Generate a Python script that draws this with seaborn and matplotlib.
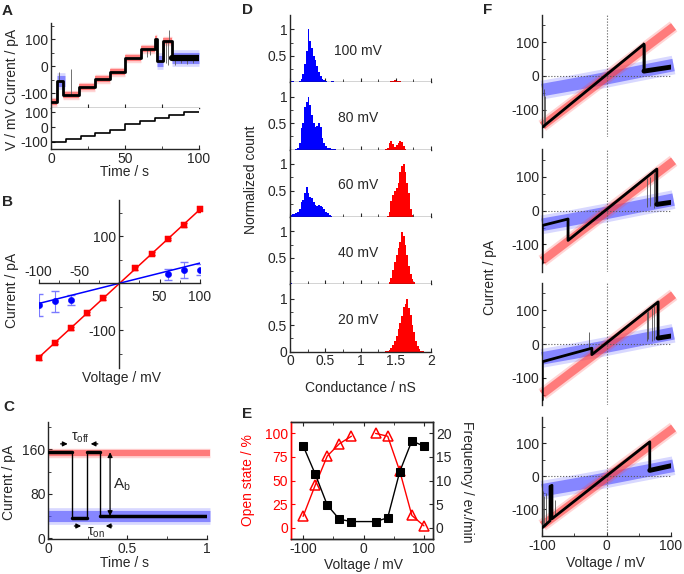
import numpy as np
import pandas as pd
import matplotlib
matplotlib.use("Agg")
import matplotlib.pyplot as plt
from matplotlib.ticker import MultipleLocator, FixedLocator
import seaborn as sns

# ---------------- A: current trace during the voltage staircase
a_trace_t = [0, 4.3, 4.3, 8.3, 8.3, 19, 19, 29.5, 29.5, 39.6, 39.6, 50.3, 50.3,
             60.6, 60.6, 70.5, 70.5, 71.9, 71.9, 75.7, 75.7, 81.5, 81.5, 100]
a_trace_i = [-133, -133, -54, -54, -105, -105, -77, -77, -48, -48, -20, -20, 32,
             32, 63, 63, 100, 100, 18, 18, 95, 95, 30, 30]
a_open_t0 = [0, 8.3, 19, 29.5, 39.6, 50.3, 60.6, 70.5, 75.7]
a_open_t1 = [4.3, 19, 29.5, 39.6, 50.3, 60.6, 70.5, 71.9, 81.5]
a_open_i = [-133, -105, -77, -48, -20, 32, 63, 100, 95]
a_closed_t0 = [3.8, 71.9, 81.5]
a_closed_t1 = [9.3, 75.7, 100]
a_closed_i = [-54, 18, 30]
a_spike_t = [5.5, 13.5, 65, 67, 76.5, 77.5, 79, 80, 84, 88, 92, 96]
a_spike_lo = [-54, -105, 35, 40, 20, 10, 5, 95, 5, 10, 8, 12]
a_spike_hi = [-23, -10, 63, 63, 95, 95, 95, 135, 30, 30, 30, 30]
a_step_t = [0, 10, 20, 30, 40, 50, 60, 70, 80, 90, 100]
a_step_v = [-100, -80, -60, -40, -20, 20, 40, 60, 80, 100, 100]

# ---------------- B: I-V of open and closed state
b_volt = [-100, -80, -60, -40, -20, 20, 40, 60, 80, 100]
b_open = [-158, -126, -96, -64, -32, 32, 63, 94, 124, 157]
b_open_err = [5, 4, 3, 3, 3, 3, 3, 3, 4, 5]
b_closed_volt = [-100, -80, -60, 60, 80, 100]
b_closed = [-46, -38, -36, 19, 28, 29]
b_closed_err = [23, 22, 11, 12, 17, 11]
b_fit_volt = [-100, 100]
b_open_fit = [-158, 157]
b_closed_fit = [-43, 43]

# ---------------- C: single gating events
c_trace_t = [0, 0.147, 0.147, 0.242, 0.242, 0.326, 0.326, 1.0]
c_trace_i = [155, 155, 37, 37, 155, 155, 40, 40]
c_open_level = 153
c_closed_level = 40

# ---------------- D: conductance histograms (bin width 0.025 nS)
d_width = 0.025
d_labels = ["100 mV", "80 mV", "60 mV", "40 mV", "20 mV"]
d_blue_start = [0.0, 0.0, 0.0, 0.0, 0.0]
d_blue = [
    [0.02, 0.03, 0.01, 0.0, 0.0, 0.02, 0.06, 0.15, 0.35, 0.6, 1.0, 0.78, 0.65,
     0.5, 0.42, 0.3, 0.2, 0.12, 0.07, 0.04, 0.02, 0.01, 0.0, 0.02, 0.03, 0.01],
    [0, 0, 0, 0.01, 0.03, 0.12, 0.4, 0.5, 0.8, 0.9, 1.0, 0.85, 0.65, 0.5, 0.42,
     0.45, 0.5, 0.42, 0.22, 0.12, 0.06, 0.04, 0.03, 0.02, 0.02, 0.01],
    [0.03, 0.05, 0.06, 0.08, 0.1, 0.15, 0.28, 0.32, 0.45, 0.56, 0.45, 0.38, 0.35,
     0.28, 0.22, 0.2, 0.22, 0.2, 0.18, 0.15, 0.1, 0.07, 0.04, 0.02],
    [0.02, 0.01],
    [],
]
d_red_start = [1.4, 1.35, 1.375, 1.4, 1.35]
d_red = [
    [0.01, 0.02, 0.03, 0.04, 0.03, 0.02, 0.03, 0.01],
    [0.01, 0.04, 0.12, 0.16, 0.1, 0.05, 0.08, 0.13, 0.16, 0.14, 0.06, 0.02],
    [0.02, 0.1, 0.3, 0.42, 0.5, 0.55, 0.65, 0.85, 0.97, 1.0, 0.85, 0.65, 0.45,
     0.15, 0.03],
    [0.04, 0.12, 0.28, 0.42, 0.55, 0.68, 0.8, 0.98, 0.92, 0.75, 0.55, 0.35, 0.2,
     0.1, 0.04, 0.01],
    [0.01, 0.02, 0.04, 0.07, 0.12, 0.2, 0.3, 0.42, 0.55, 0.68, 0.85, 0.9, 1.0,
     0.82, 0.7, 0.5, 0.38, 0.2, 0.1, 0.05, 0.02, 0.01],
]

# ---------------- E: open probability and gating frequency
e_volt = [-100, -80, -60, -40, -20, 20, 40, 60, 80, 100]
e_open = [12, 45, 76, 89, 97, 100, 97, 60, 13, 2]
e_freq = [17.4, 11.4, 4.8, 1.8, 1.3, 1.3, 2.1, 11.9, 18.4, 17.3]

# ---------------- F: voltage ramps
f_red_band_v = [-100, 104]
f_red_band_i = [-148, 146]
f_blue_band_v = [-100, -50, 0, 50, 104]
f_blue_band_i = [-42, -25, -7, 12, 32]
f_trace_v = [
    [-100, 58, 58, 100],
    [-100, -100, -60, -60, 78, 78, 100],
    [-100, -100, -23, -23, 80, 80, 100],
    [-100, -88, -88, -85, -85, 67, 67, 100],
]
f_trace_i = [
    [-152, 94, 14, 26],
    [-155, -44, -25, -88, 122, 18, 24],
    [-165, -52, -12, -31, 125, 18, 24],
    [-155, -134, -30, -27, -128, 104, 18, 32],
]
f_spike_v = [[-98, -96.5, 57, 60], [63, 67, 73, 76], [-28, 62, 64, 70, 74],
             [-99, -97, -95, -80]]
f_spike_lo = [[-150, -148, 14, 14], [10, 12, 8, 15], [-14, 10, 15, 10, 12],
              [-152, -150, -148, -120]]
f_spike_hi = [[-40, -60, 100, 95], [95, 100, 110, 114], [37, 95, 98, 107, 113],
              [-45, -60, -50, -70]]

RED = "#ff0000"
BLUE = "#0000ff"
RED_BAND = "#ff4040"
BLUE_BAND = "#5050ff"

sns.set_style("ticks")
plt.rcParams["font.family"] = ["Liberation Sans", "DejaVu Sans"]
plt.rcParams.update({
    "font.size": 10, "xtick.labelsize": 10, "ytick.labelsize": 10,
    "xtick.direction": "in", "ytick.direction": "in",
    "xtick.major.size": 3, "ytick.major.size": 3,
    "xtick.minor.size": 2, "ytick.minor.size": 2,
    "xtick.major.pad": 2, "ytick.major.pad": 2,
    "axes.linewidth": 1.0, "axes.unicode_minus": False,
    "mathtext.default": "regular",
})

W, H = 684, 574
fig = plt.figure(figsize=(W / 100, H / 100), dpi=100)


def add_ax(l, t, r, b):
    return fig.add_axes([l / W, 1 - b / H, (r - l) / W, (b - t) / H])


def ftext(x, y, s, **kw):
    fig.text(x / W, 1 - y / H, s, ha="center", va="center", **kw)


def band(ax, x, y, width, color):
    ax.plot(x, y, color=color, lw=width * 1.5, alpha=0.22, solid_capstyle="butt",
            solid_joinstyle="round", clip_on=False, zorder=1)
    ax.plot(x, y, color=color, lw=width, alpha=0.6, solid_capstyle="butt",
            solid_joinstyle="round", clip_on=False, zorder=1)


# ======================= A
axA = add_ax(51, 23, 199, 108)
axAv = add_ax(51, 108, 199, 149)
for t0, t1, lev in zip(a_open_t0, a_open_t1, a_open_i):
    band(axA, [t0, t1], [lev, lev], 4.5, RED_BAND)
for t0, t1, lev in zip(a_closed_t0, a_closed_t1, a_closed_i):
    band(axA, [t0, t1], [lev, lev], 8, BLUE_BAND)
axA.vlines(a_spike_t, a_spike_lo, a_spike_hi, color="0.35", lw=0.6, zorder=2)
axA.plot(a_trace_t, a_trace_i, color="k", lw=2.0, zorder=3)
axA.plot(a_trace_t[-2:], a_trace_i[-2:], color="k", lw=4.5, zorder=3)
axA.set_xlim(0, 100)
axA.set_ylim(-155, 160)
axA.set_yticks([-100, 0, 100])
axA.yaxis.set_minor_locator(FixedLocator([-50, 50, 150]))
axA.set_xticks([25, 50, 75])
axA.set_xticklabels([])
axA.spines[["top", "right"]].set_visible(False)

axAv.plot(a_step_t, a_step_v, drawstyle="steps-post", color="k", lw=1.2)
axAv.set_xlim(0, 100)
axAv.set_ylim(-147, 127)
axAv.set_yticks([-100, 0, 100])
axAv.set_xticks([0, 50, 100])
axAv.xaxis.set_minor_locator(FixedLocator([25, 75]))
axAv.spines[["top", "right"]].set_visible(False)
ftext(12, 66, "Current / pA", rotation=90)
ftext(12, 129, "V / mV", rotation=90)
ftext(125, 172, "Time / s")

# ======================= B
axB = add_ax(38.6, 200, 200, 368)
axB.errorbar(b_volt, b_open, yerr=b_open_err, fmt="none", ecolor=RED,
             elinewidth=0.8, capsize=2.5, zorder=2)
axB.errorbar(b_closed_volt, b_closed, yerr=b_closed_err, fmt="none",
             ecolor="#7a7aff", elinewidth=0.8, capsize=3, zorder=2)
sns.lineplot(x=b_fit_volt, y=b_open_fit, color=RED, lw=1.1, ax=axB)
sns.lineplot(x=b_fit_volt, y=b_closed_fit, color=BLUE, lw=1.1, ax=axB)
sns.scatterplot(x=b_volt, y=b_open, marker="s", color=RED, edgecolor=RED, s=20,
                ax=axB, zorder=4, clip_on=False)
sns.scatterplot(x=b_closed_volt, y=b_closed, marker="o", color=BLUE,
                edgecolor=BLUE, s=20, ax=axB, zorder=4)
axB.set_xlim(-100, 100)
axB.set_ylim(-180, 177)
axB.spines["left"].set_position(("data", 0))
axB.spines["bottom"].set_position(("data", 0))
axB.spines[["top", "right"]].set_visible(False)
axB.set_xticks([-100, -50, 50, 100])
axB.set_xticklabels(["", "", "50", "100"])
axB.xaxis.set_minor_locator(FixedLocator([-75, -25, 25, 75]))
axB.tick_params(axis="x", pad=5)
for v in [-100, -50]:
    axB.text(v, 25, str(v), ha="center", va="center", fontsize=10)
axB.set_yticks([-100, 100])
axB.yaxis.set_minor_locator(FixedLocator([-150, -50, 50, 150]))
ftext(12, 290, "Current / pA", rotation=90)
ftext(121, 378, "Voltage / mV")

# ======================= C
axC = add_ax(48.3, 421.7, 206.7, 539.3)
band(axC, [0, 1.02], [c_open_level, c_open_level], 4.5, RED_BAND)
band(axC, [0, 1.02], [c_closed_level, c_closed_level], 8, BLUE_BAND)
axC.plot(c_trace_t, c_trace_i, color="k", lw=1.0, zorder=3)
for j in range(0, len(c_trace_t), 2):
    axC.plot(c_trace_t[j:j + 2], c_trace_i[j:j + 2], color="k", lw=2.5, zorder=3)
arr = dict(arrowstyle="-|>", color="k", lw=0.9, mutation_scale=7)
axC.annotate("", xy=(0.14, 170), xytext=(0.06, 170), arrowprops=arr)
axC.annotate("", xy=(0.25, 170), xytext=(0.33, 170), arrowprops=arr)
axC.text(0.2, 181, r"$\tau_{off}$", ha="center", va="center", fontsize=10)
axC.annotate("", xy=(0.225, 22), xytext=(0.147, 22), arrowprops=arr)
axC.annotate("", xy=(0.345, 22), xytext=(0.42, 22), arrowprops=arr)
axC.text(0.3, 9, r"$\tau_{on}$", ha="center", va="center", fontsize=10)
axC.annotate("", xy=(0.39, 155), xytext=(0.39, 40),
             arrowprops=dict(arrowstyle="<|-|>", color="k", lw=0.9,
                             mutation_scale=7, shrinkA=0, shrinkB=0))
axC.text(0.41, 96, r"$A_b$", ha="left", va="center", fontsize=11)
axC.set_xlim(0, 1)
axC.set_ylim(-2, 210)
axC.set_xticks([0, 0.5, 1])
axC.set_xticklabels(["0", "0.5", "1"])
axC.xaxis.set_minor_locator(FixedLocator([0.25, 0.75]))
axC.set_yticks([0, 80, 160])
axC.yaxis.set_minor_locator(FixedLocator([40, 120, 200]))
axC.spines[["top", "right"]].set_visible(False)
ftext(9, 482, "Current / pA", rotation=90)
ftext(125, 563, "Time / s")

# ======================= D
d_top, d_bot = 15, 351.7
d_h = (d_bot - d_top) / 5
for k in range(5):
    ax = add_ax(290, d_top + k * d_h, 431, d_top + (k + 1) * d_h)
    for start, heights, col in [(d_blue_start[k], d_blue[k], BLUE),
                                (d_red_start[k], d_red[k], RED)]:
        if len(heights) == 0:
            continue
        hist = pd.DataFrame({
            "g": [start + d_width * (i + 0.5) for i in range(len(heights))],
            "w": heights,
        })
        sns.histplot(data=hist, x="g", weights="w", binwidth=d_width,
                     binrange=(0, 2), element="step", fill=True, color=col,
                     alpha=1, linewidth=0, ax=ax)
    ax.set_xlabel("")
    ax.set_ylabel("")
    ax.text(0.97, 0.6, d_labels[k], ha="center", va="center", fontsize=10)
    ax.set_xlim(0, 2)
    ax.set_ylim(0, 1.27)
    ax.spines[["top", "right"]].set_visible(False)
    ax.xaxis.set_major_locator(MultipleLocator(0.5))
    ax.xaxis.set_minor_locator(MultipleLocator(0.25))
    ax.yaxis.set_minor_locator(FixedLocator([0.25, 0.75]))
    if k < 4:
        ax.set_yticks([0.5, 1])
        ax.set_yticklabels(["0.5", "1"])
        ax.set_xticklabels([])
    else:
        ax.set_yticks([0, 0.5, 1])
        ax.set_yticklabels(["0", "0.5", "1"])
        ax.set_xticks([0, 0.5, 1, 1.5, 2])
        ax.set_xticklabels(["0", "0.5", "1", "1.5", "2"])
ftext(251, 180, "Normalized count", rotation=90)
ftext(360, 388, "Conductance / nS")

# ======================= E
axE = add_ax(291, 421.7, 433, 539.3)
axE2 = axE.twinx()
neg = [i for i, v in enumerate(e_volt) if v < 0]
pos = [i for i, v in enumerate(e_volt) if v > 0]
for idx in (neg, pos):
    sns.lineplot(x=[e_volt[i] for i in idx], y=[e_open[i] for i in idx],
                 color=RED, lw=1.0, marker="^", markersize=7,
                 markerfacecolor="none", markeredgecolor=RED, markeredgewidth=1.1,
                 ax=axE)
sns.lineplot(x=e_volt, y=e_freq, color="k", lw=1.0, marker="s", markersize=5.5,
             markeredgecolor="k", ax=axE2)
axE.set_xlim(-120, 115)
axE.set_ylim(-12.3, 112.4)
axE2.set_ylim(-2.46, 22.48)
axE.set_xticks([-100, 0, 100])
axE.xaxis.set_minor_locator(FixedLocator([-50, 50]))
axE.set_yticks([0, 25, 50, 75, 100])
axE2.set_yticks([0, 5, 10, 15, 20])
axE.tick_params(axis="x", top=True, which="both")
axE.tick_params(axis="y", colors=RED)
axE.spines["left"].set_color(RED)
axE2.spines["left"].set_color(RED)
axE.set_xlabel("")
axE.set_ylabel("")
axE2.set_ylabel("")
ftext(248, 480, "Open state / %", rotation=90, color=RED)
ftext(467, 482, "Frequency / ev./min", rotation=270)
ftext(363, 565, "Voltage / mV")

# ======================= F
f_rows = [(15, 136.7), (149.3, 271.7), (283.3, 405), (416.7, 536)]
for k, (t, b) in enumerate(f_rows):
    ax = add_ax(542.3, t, 671, b)
    band(ax, f_blue_band_v, f_blue_band_i, 9, BLUE_BAND)
    band(ax, f_red_band_v, f_red_band_i, 6, RED_BAND)
    ax.axhline(0, ls=":", color="0.35", lw=0.8, zorder=2)
    ax.axvline(0, ls=":", color="0.35", lw=0.8, zorder=2)
    ax.vlines(f_spike_v[k], f_spike_lo[k], f_spike_hi[k], color="0.3", lw=0.6,
              zorder=3)
    ax.plot(f_trace_v[k], f_trace_i[k], color="k", lw=2.0, zorder=4)
    ax.plot(f_trace_v[k][-2:], f_trace_i[k][-2:], color="k", lw=3.5, zorder=4)
    ax.set_xlim(-100, 100)
    ax.set_ylim(-180, 180)
    ax.set_yticks([-100, 0, 100])
    ax.yaxis.set_minor_locator(FixedLocator([-150, -50, 50, 150]))
    ax.spines[["top", "right"]].set_visible(False)
    if k < 3:
        ax.spines["bottom"].set_visible(False)
        ax.set_xticks([])
    else:
        ax.set_xticks([-100, 0, 100])
        ax.xaxis.set_minor_locator(FixedLocator([-50, 50]))
ftext(490, 277, "Current / pA", rotation=90)
ftext(605, 563, "Voltage / mV")

# panel letters
for s, x, y in [("A", 2, 11), ("B", 2, 202), ("C", 3, 407), ("D", 242, 10),
                ("E", 242, 414), ("F", 483, 10)]:
    fig.text(x / W, 1 - y / H, s, ha="left", va="center", fontsize=11,
             fontweight="bold")

fig.savefig("out.png", dpi=100)
